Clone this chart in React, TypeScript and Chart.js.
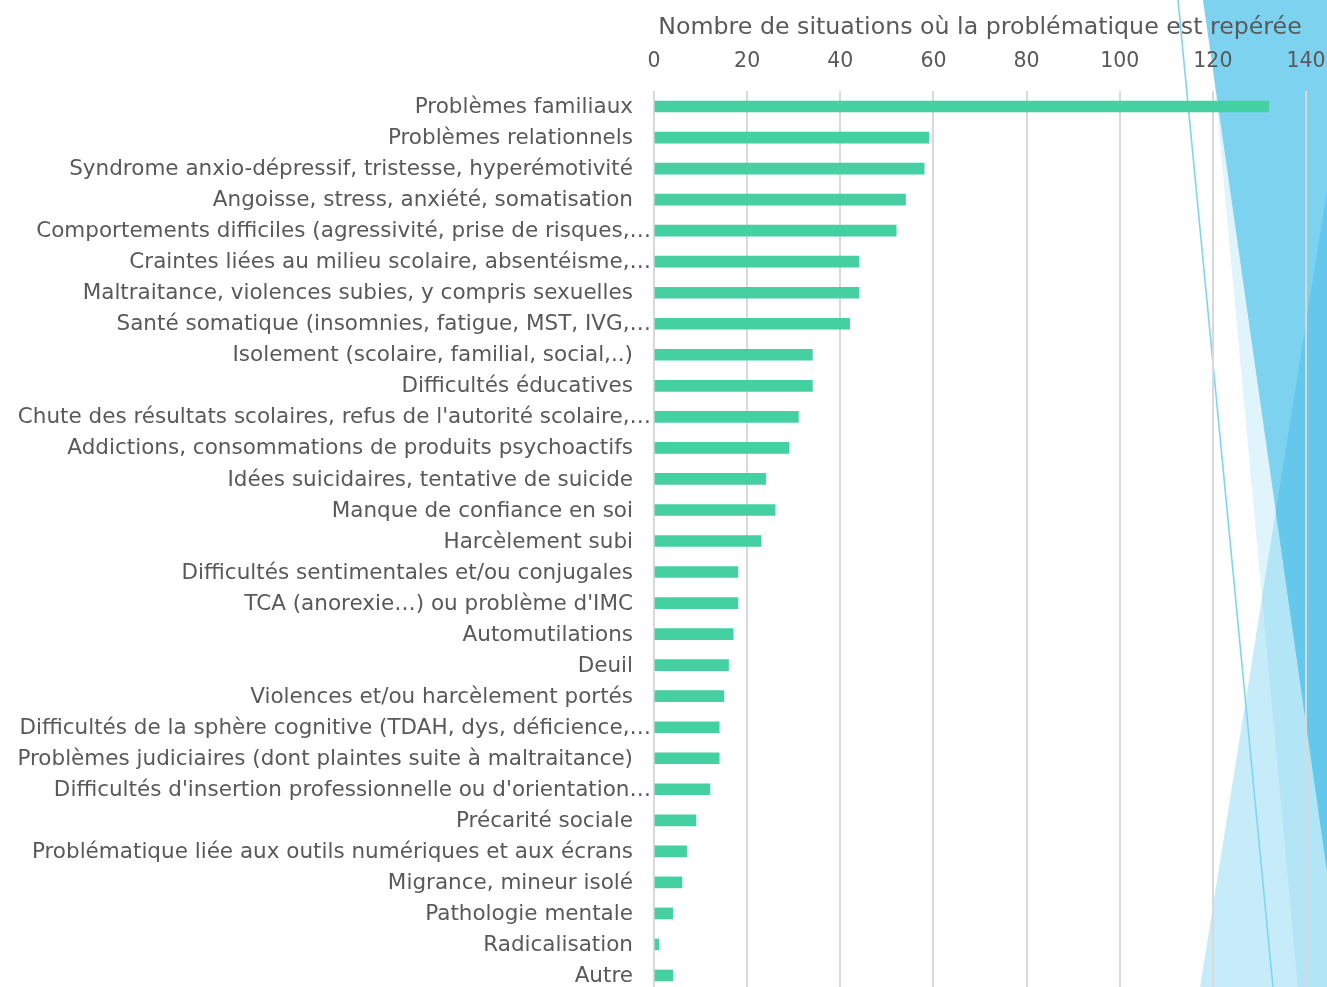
import React, { useEffect, useRef } from "react";
import { Chart, registerables } from "chart.js";

Chart.register(...registerables);

const categories: string[] = [
  "Problèmes familiaux",
  "Problèmes relationnels",
  "Syndrome anxio-dépressif, tristesse, hyperémotivité",
  "Angoisse, stress, anxiété, somatisation",
  "Comportements difficiles (agressivité, prise de risques,…",
  "Craintes liées au milieu scolaire, absentéisme,…",
  "Maltraitance, violences subies, y compris sexuelles",
  "Santé somatique (insomnies, fatigue, MST, IVG,…",
  "Isolement (scolaire, familial, social,..)",
  "Difficultés éducatives",
  "Chute des résultats scolaires, refus de l'autorité scolaire,…",
  "Addictions, consommations de produits psychoactifs",
  "Idées suicidaires, tentative de suicide",
  "Manque de confiance en soi",
  "Harcèlement subi",
  "Difficultés sentimentales et/ou conjugales",
  "TCA (anorexie…) ou problème d'IMC",
  "Automutilations",
  "Deuil",
  "Violences et/ou harcèlement portés",
  "Difficultés de la sphère cognitive (TDAH, dys, déficience,…",
  "Problèmes judiciaires (dont plaintes suite à maltraitance)",
  "Difficultés d'insertion professionnelle ou d'orientation…",
  "Précarité sociale",
  "Problématique liée aux outils numériques et aux écrans",
  "Migrance, mineur isolé",
  "Pathologie mentale",
  "Radicalisation",
  "Autre",
];

const situations: number[] = [
  132, 59, 58, 54, 52, 44, 44, 42, 34, 34, 31, 29, 24, 26, 23, 18, 18, 17, 16,
  15, 14, 14, 12, 9, 7, 6, 4, 1, 4,
];

const axisTitle = "Nombre de situations où la problématique est repérée";
const xMin = 0;
const xMax = 140;
const xStep = 20;

const FONT = "'DejaVu Sans', sans-serif";
const TEXT = "#595959";

const decorPlugin = {
  id: "decor",
  beforeDraw(chart: any) {
    const ctx = chart.ctx as CanvasRenderingContext2D;
    const poly = (pts: number[][]) => {
      ctx.beginPath();
      ctx.moveTo(pts[0][0], pts[0][1]);
      for (let i = 1; i < pts.length; i++) ctx.lineTo(pts[i][0], pts[i][1]);
      ctx.closePath();
    };
    const A = [[1207, 0], [1327, 0], [1327, 1000], [1299, 1000]];
    const B = [[1203, 0], [1327, 0], [1327, 871]];
    const C = [[1327, 190], [1327, 1000], [1198, 1000]];
    ctx.save();
    ctx.fillStyle = "#ffffff";
    ctx.fillRect(0, 0, chart.width, chart.height);
    poly(A); ctx.fillStyle = "#e0f4fb"; ctx.fill();
    poly(C); ctx.fillStyle = "#c6ecf9"; ctx.fill();
    ctx.save(); poly(C); ctx.clip(); poly(A); ctx.fillStyle = "#b2e5f6"; ctx.fill(); ctx.restore();
    poly(B); ctx.fillStyle = "#7dd3ef"; ctx.fill();
    ctx.save(); poly(C); ctx.clip(); poly(B); ctx.fillStyle = "#63c8ec"; ctx.fill(); ctx.restore();
    ctx.beginPath();
    ctx.moveTo(1178, 0);
    ctx.lineTo(1273, 987);
    ctx.strokeStyle = "#7fd5f1";
    ctx.lineWidth = 1.6;
    ctx.stroke();
    ctx.restore();
  },
};

const labelPlugin = {
  id: "catLabels",
  afterDraw(chart: any) {
    const ctx = chart.ctx as CanvasRenderingContext2D;
    const yScale = chart.scales.y;
    const left = chart.chartArea.left;
    ctx.save();
    ctx.font = `21.5px ${FONT}`;
    ctx.fillStyle = TEXT;
    ctx.textAlign = "right";
    ctx.textBaseline = "middle";
    categories.forEach((c, i) => {
      const y = yScale.getPixelForValue(i) + 1;
      const truncated = c.endsWith("…");
      ctx.fillText(c, truncated ? left - 3 : left - 21, y);
    });
    ctx.restore();
  },
};

export default function App() {
  const ref = useRef<HTMLCanvasElement | null>(null);
  useEffect(() => {
    document.body.style.margin = "0";
    document.body.style.overflow = "hidden";
    const chart = new Chart(ref.current as HTMLCanvasElement, {
      type: "bar",
      data: {
        labels: categories,
        datasets: [
          {
            data: situations,
            backgroundColor: "#44d0a0",
            barThickness: 11,
          },
        ],
      },
      plugins: [decorPlugin, labelPlugin],
      options: {
        indexAxis: "y",
        animation: false,
        responsive: false,
        devicePixelRatio: 1,
        layout: { padding: 0 },
        plugins: {
          legend: { display: false },
          tooltip: { enabled: false },
        },
        scales: {
          x: {
            position: "top",
            min: xMin,
            max: xMax,
            ticks: {
              stepSize: xStep,
              color: TEXT,
              font: { family: FONT, size: 20.5 },
              padding: 17,
            },
            grid: { color: "#d9d9d9", lineWidth: 2, drawTicks: false },
            border: { display: false },
            title: {
              display: true,
              text: axisTitle,
              color: TEXT,
              font: { family: FONT, size: 23.7 },
              padding: { top: 14, bottom: 0 },
            },
            afterFit: (s: any) => {
              s.height = 91;
              s.paddingRight = 21;
              s.paddingLeft = 0;
            },
          },
          y: {
            ticks: { display: false },
            grid: { display: false },
            border: { display: false },
            afterFit: (s: any) => {
              s.width = 654;
            },
          },
        },
      },
    } as any);
    return () => chart.destroy();
  }, []);
  return (
    <div style={{ position: "fixed", left: 0, top: 0, width: 1327, height: 987, overflow: "hidden" }}>
      <canvas ref={ref} width={1327} height={991} style={{ display: "block" }} />
    </div>
  );
}
